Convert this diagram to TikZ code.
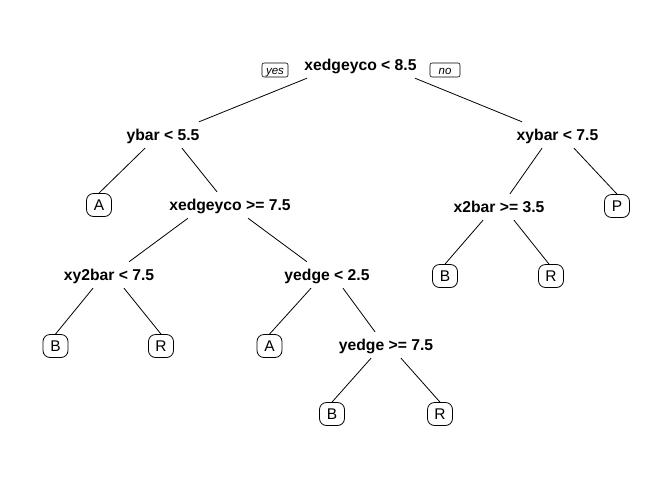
\documentclass[tikz,border=0pt]{standalone}
\usepackage{fontspec}
\setmainfont{Liberation Sans}
\begin{document}
\begin{tikzpicture}[x=1pt,y=-1pt,
  split/.style={font=\fontsize{15.7}{18}\selectfont\bfseries, inner sep=0pt,
    text height=11.2pt, text depth=0pt, minimum height=26pt},
  leaf/.style={draw, rounded corners=7pt, font=\fontsize{15.5}{18}\selectfont,
    inner sep=0pt, minimum width=25pt, minimum height=23pt,
    text height=11.1pt, text depth=0pt, line width=0.8pt},
  tag/.style={draw, rounded corners=2pt, font=\fontsize{11.5}{13}\selectfont\itshape,
    inner sep=0pt, minimum height=14pt, text height=8.3pt, text depth=0pt,
    line width=0.6pt},
  edge/.style={line width=0.8pt}]
\useasboundingbox (0,0) rectangle (672,480);

% split nodes
\node[split] (root)  at (360.5,65)  {xedgeyco < 8.5};
\node[split] (ybar)  at (163,135)   {ybar < 5.5};
\node[split] (xybar) at (557.5,135) {xybar < 7.5};
\node[split] (xe75)  at (230,205)   {xedgeyco >= 7.5};
\node[split] (x2bar) at (499,207)   {x2bar >= 3.5};
\node[split] (xy2)   at (109,275)   {xy2bar < 7.5};
\node[split] (ye25)  at (327,275)   {yedge < 2.5};
\node[split] (ye75)  at (386,345)   {yedge >= 7.5};

% yes / no tags beside the root
\node[tag, minimum width=26pt] (yes) at (275,70) {yes};
\node[tag, minimum width=30pt] (no)  at (445,70) {no};

% leaves
\node[leaf] (lA1) at (99,205)   {A};
\node[leaf] (lP)  at (617,206)  {P};
\node[leaf] (lB1) at (445,276)  {B};
\node[leaf] (lR1) at (551,276)  {R};
\node[leaf] (lB2) at (55.5,346) {B};
\node[leaf] (lR2) at (161,346)  {R};
\node[leaf] (lA2) at (269.5,346) {A};
\node[leaf] (lB3) at (332,414)  {B};
\node[leaf] (lR3) at (440,414)  {R};

% branches
\draw[edge] ([xshift=-53.5pt]root.south) -- ([xshift=36pt]ybar.north);
\draw[edge] ([xshift=54.5pt]root.south) -- ([xshift=-35.5pt]xybar.north);
\draw[edge] ([xshift=-18pt]ybar.south) -- (lA1.north);
\draw[edge] ([xshift=19pt]ybar.south) -- ([xshift=-13pt]xe75.north);
\draw[edge] ([xshift=-15.5pt]xybar.south) -- ([xshift=11pt]x2bar.north);
\draw[edge] ([xshift=16.5pt]xybar.south) -- (lP.north);
\draw[edge] ([xshift=-42pt]xe75.south) -- ([xshift=20pt]xy2.north);
\draw[edge] ([xshift=18pt]xe75.south) -- ([xshift=-20pt]ye25.north);
\draw[edge] ([xshift=-16pt]x2bar.south) -- (lB1.north);
\draw[edge] ([xshift=15pt]x2bar.south) -- ([xshift=-2pt]lR1.north);
\draw[edge] ([xshift=-16pt]xy2.south) -- (lB2.north);
\draw[edge] ([xshift=15pt]xy2.south) -- (lR2.north);
\draw[edge] ([xshift=-16pt]ye25.south) -- (lA2.north);
\draw[edge] ([xshift=16pt]ye25.south) -- ([xshift=-11pt]ye75.north);
\draw[edge] ([xshift=-15pt]ye75.south) -- (lB3.north);
\draw[edge] ([xshift=15pt]ye75.south) -- (lR3.north);
\end{tikzpicture}
\end{document}
